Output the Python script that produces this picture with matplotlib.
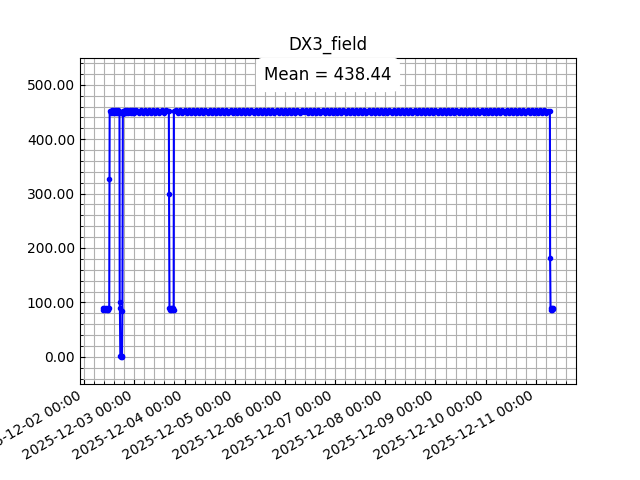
from datetime import datetime, timedelta

import matplotlib
matplotlib.use("Agg")
import matplotlib.pyplot as plt
import matplotlib.dates as mdates
from matplotlib.ticker import AutoMinorLocator, FormatStrFormatter

# readings, time given as hours after 2025-12-02 00:00
t0 = datetime(2025, 12, 2)

start_hours = [8.8, 9.2, 9.6, 10.0, 10.4, 10.8, 11.2, 11.6, 12.0, 12.1, 12.2,
               12.7, 13.2, 13.7, 14.2, 14.7, 15.2, 15.7, 16.2, 16.7]
start_values = [90, 86, 90, 86, 90, 86, 90, 86, 90, 326, 452,
                449, 454, 449, 454, 449, 454, 449, 454, 449]

dip1_hours = [16.9, 17.0, 17.1, 17.3, 17.5, 17.7, 17.9, 18.1, 18.3, 18.5,
              18.7, 19.2, 19.7, 20.2, 20.7, 21.2, 21.7, 22.2, 22.7, 23.2, 23.7]
dip1_values = [452, 101, 90, 2, 0, 1, 2, 0, 84, 447,
               452, 449, 454, 449, 454, 449, 454, 449, 454, 449, 454]

# hourly readings 2025-12-03 00:00 .. 16:00
day3_am_values = [449, 454, 449, 454, 449, 454, 449, 454, 449, 454, 449, 454,
                  449, 454, 449, 454, 452]

dip2_hours = [16.5, 16.6, 16.8, 17.1, 17.4, 17.7, 18.0, 18.3, 18.6, 18.8, 18.9]
dip2_values = [452, 300, 90, 86, 90, 86, 90, 86, 90, 86, 452]

# hourly readings from 2025-12-03 20:00 to 2025-12-11 06:00, one row per day
plateau_first_hour = 44
plateau_values = [
    454, 449, 454, 449,
    454, 449, 454, 449, 454, 449, 454, 449, 454, 449, 454, 449,
    454, 449, 454, 449, 454, 449, 454, 449, 454, 449, 454, 449,
    454, 449, 454, 449, 453, 449, 454, 449, 454, 449, 454, 449,
    454, 449, 454, 449, 454, 449, 454, 449, 453, 449, 454, 449,
    454, 449, 454, 449, 454, 449, 454, 449, 454, 450, 454, 449,
    454, 449, 454, 449, 454, 449, 454, 449, 454, 449, 454, 449,
    453, 449, 453, 449, 453, 449, 453, 449, 453, 449, 453, 449,
    453, 449, 453, 449, 453, 449, 453, 449, 453, 449, 453, 449,
    453, 449, 453, 449, 453, 449, 453, 449, 453, 449, 453, 449,
    453, 449, 453, 449, 453, 449, 453, 449, 453, 449, 453, 449,
    454, 449, 454, 449, 454, 449, 454, 449, 454, 449, 454, 449,
    454, 449, 454, 449, 454, 449, 454, 449, 454, 449, 454, 449,
    454, 449, 454, 449, 454, 449, 454, 449, 454, 449, 454, 449,
    454, 449, 454, 449, 454, 449, 454, 449, 454, 449, 454, 449,
    454, 449, 454, 449, 454, 449, 452,
]

end_hours = [222.7, 222.8, 223.0, 223.3, 223.6, 223.9, 224.2, 224.4]
end_values = [452, 182, 90, 86, 90, 86, 90, 87]

mean_value = 438.44
title = "DX3_field"

day3_am_hours = [24 + h for h in range(len(day3_am_values))]
dip2_hours = [24 + h for h in dip2_hours]
plateau_hours = [plateau_first_hour + h for h in range(len(plateau_values))]

hours = start_hours + dip1_hours + day3_am_hours + dip2_hours + plateau_hours + end_hours
values = start_values + dip1_values + day3_am_values + dip2_values + plateau_values + end_values
times = [t0 + timedelta(hours=h) for h in hours]

fig, ax = plt.subplots(figsize=(6.4, 4.8), dpi=100)
ax.plot(times, values, "b.-")
ax.set_title(title)
ax.set_ylim(-50, 550)

ax.xaxis.set_major_locator(mdates.DayLocator())
ax.xaxis.set_major_formatter(mdates.DateFormatter("%Y-%m-%d %H:%M"))
ax.xaxis.set_minor_locator(AutoMinorLocator(5))
ax.yaxis.set_minor_locator(AutoMinorLocator(5))
ax.yaxis.set_major_formatter(FormatStrFormatter("%.2f"))
ax.tick_params(which="both", direction="in")
ax.grid(True, which="both")
ax.set_axisbelow(True)

ax.text(0.5, 0.975, f"Mean = {mean_value:.2f}", transform=ax.transAxes,
        ha="center", va="top", fontsize=12,
        bbox=dict(boxstyle="round,pad=0.5", facecolor="white", edgecolor="none"))

fig.autofmt_xdate()
fig.savefig("out.png")
